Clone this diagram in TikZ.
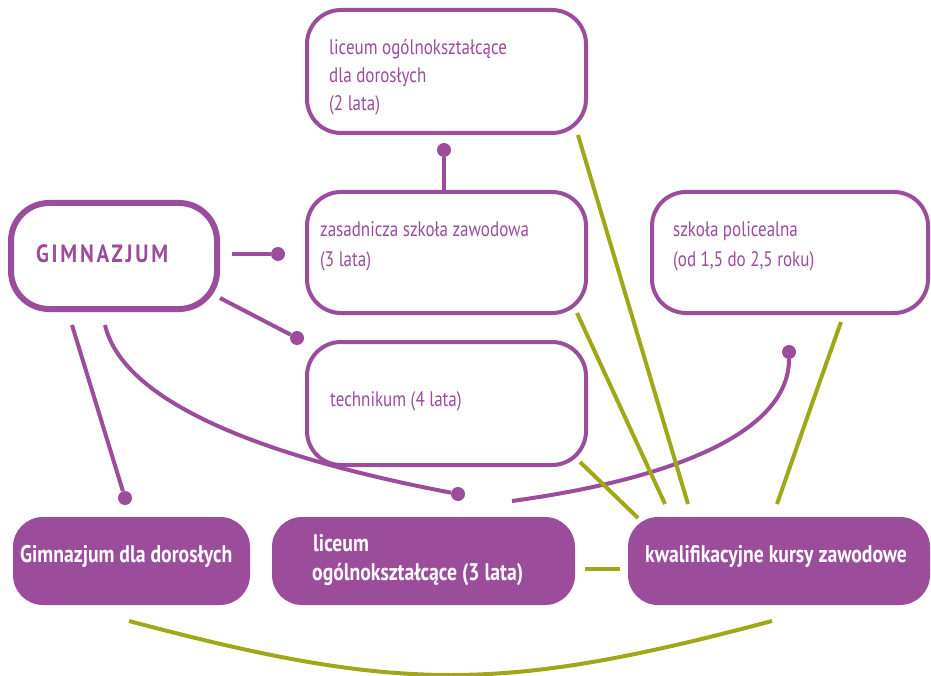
\documentclass[tikz,border=0pt]{standalone}
\usepackage{fontspec}
\setmainfont[FakeStretch=0.81]{PT Sans}
\newfontfamily\gimfont[FakeStretch=0.84,LetterSpace=11]{PT Sans}
\newfontfamily\boldfont[FakeStretch=0.82]{PT Sans}
\definecolor{purp}{RGB}{155,77,155}
\definecolor{olv}{RGB}{160,168,24}
\begin{document}
\begin{tikzpicture}[x=1pt,y=-1pt,
  box/.style={draw=purp, line width=4pt, rounded corners=34pt, fill=white, inner sep=0pt},
  fbox/.style={fill=purp, rounded corners=30pt, inner sep=0pt},
  lab/.style={anchor=base west, inner sep=0pt, text=purp, font=\fontsize{21}{25}\selectfont},
  wlab/.style={anchor=base west, inner sep=0pt, text=white, font=\boldfont\fontsize{24}{28}\selectfont\bfseries},
  pline/.style={draw=purp, line width=4pt},
  gline/.style={draw=olv, line width=4pt},
  dot/.style={circle, fill=purp, inner sep=0pt, minimum size=14pt}]
\useasboundingbox (0,0) rectangle (931,676);
% boxes
\node[box, line width=6pt, rounded corners=38pt, minimum width=206pt, minimum height=106pt] (gim) at (114,256) {};
\node[box, minimum width=279pt, minimum height=123pt] (lod) at (446.5,71.5) {};
\node[box, minimum width=279pt, minimum height=121pt] (zsz) at (446.5,252.5) {};
\node[box, minimum width=279pt, minimum height=123pt] (tech) at (446.5,403.5) {};
\node[box, minimum width=276pt, minimum height=121pt] (pol) at (790,252.5) {};
\node[fbox, minimum width=237pt, minimum height=88pt] (gdd) at (131.5,561) {};
\node[fbox, minimum width=303pt, minimum height=88pt] (lic) at (423.5,561) {};
\node[fbox, minimum width=302pt, minimum height=88pt] (kkz) at (779,561) {};
% texts
\node[anchor=base west, inner sep=0pt, text=purp, font=\gimfont\fontsize{25}{29}\selectfont\bfseries] (tgim) at (36,262) {GIMNAZJUM};
\node[lab] (tl1) at (329,55) {liceum ogólnokształcące};
\node[lab] (tl2) at (329,83) {dla dorosłych};
\node[lab] (tl3) at (329,111) {(2 lata)};
\node[lab] (tz1) at (320,237) {zasadnicza szkoła zawodowa};
\node[lab] (tz2) at (320,266) {(3 lata)};
\node[lab] (tp1) at (673,237) {szkoła policealna};
\node[lab] (tp2) at (673,266) {(od 1,5 do 2,5 roku)};
\node[lab] (tt1) at (330,406) {technikum (4 lata)};
\node[wlab] (tg) at (20,562) {Gimnazjum dla dorosłych};
\node[wlab] (tc1) at (313,551) {liceum};
\node[wlab] (tc2) at (312,580) {ogólnokształcące (3 lata)};
\node[wlab] (tk) at (645,562) {kwalifikacyjne kursy zawodowe};
% dots
\node[dot] (d1) at (278,254) {};
\node[dot] (d2) at (297,338) {};
\node[dot] (d3) at (444,150) {};
\node[dot] (d4) at (125,498) {};
\node[dot] (d5) at (458,494) {};
\node[dot] (d6) at (789,352) {};
% free ends
\coordinate (g1) at (232,254);
\coordinate (g2) at (220,298);
\coordinate (z1) at (444,190);
\coordinate (g3) at (72,325);
\coordinate (g4) at (105,325);
\coordinate (l1) at (512,501);
\coordinate (a1) at (578,135);
\coordinate (a2) at (688,504);
\coordinate (b1) at (577,313);
\coordinate (b2) at (665,504);
\coordinate (c1) at (580,462);
\coordinate (c2) at (638,518);
\coordinate (e1) at (841,322);
\coordinate (e2) at (777,504);
\coordinate (f1) at (585,569);
\coordinate (f2) at (620,569);
\coordinate (h1) at (129,621);
\coordinate (h2) at (772,621);
% purple connectors
\draw[pline] (g1) -- (d1);
\draw[pline] (g2) -- (d2);
\draw[pline] (z1) -- (d3);
\draw[pline] (g3) -- (d4);
\draw[pline] (g4) .. controls (125,410) and (290,462) .. (d5);
\draw[pline] (l1) .. controls (680,478) and (789,430) .. (d6);
% green connectors
\draw[gline] (a1) -- (a2);
\draw[gline] (b1) -- (b2);
\draw[gline] (c1) -- (c2);
\draw[gline] (e1) .. controls (815,395) .. (e2);
\draw[gline] (f1) -- (f2);
\draw[gline] (h1) .. controls (400,693) and (501,693) .. (h2);
\end{tikzpicture}
\end{document}
